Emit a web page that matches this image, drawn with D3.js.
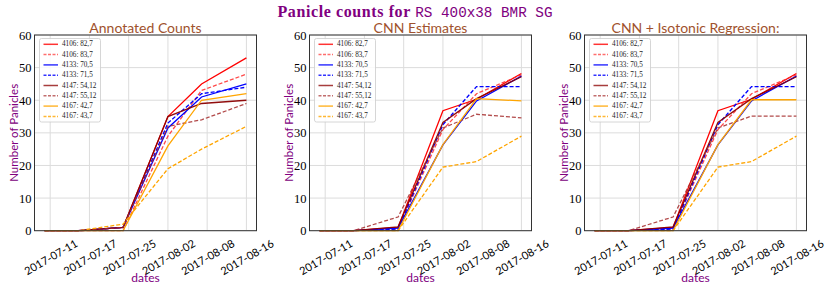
<!DOCTYPE html>
<html><head><meta charset="utf-8">
<script src="https://cdn.jsdelivr.net/npm/d3@7"></script>
<style>body{margin:0;background:#fff}svg{display:block}</style>
</head><body>
<svg id="c" width="830" height="302"></svg>
<script>
// ---- data ----
const dates = ["2017-07-11","2017-07-17","2017-07-25","2017-08-02","2017-08-08","2017-08-16"];
const tickDates = ["2017-07-12","2017-07-19","2017-07-26","2017-08-02","2017-08-09","2017-08-16"];
const tickLabels = ["2017-07-11","2017-07-17","2017-07-25","2017-08-02","2017-08-08","2017-08-16"];
const yTicks = [0,10,20,30,40,50,60];
const seriesNames = ["4106: 82,7","4106: 83,7","4133: 70,5","4133: 71,5","4147: 54,12","4147: 55,12","4167: 42,7","4167: 43,7"];
const panelTitles = ["Annotated Counts","CNN Estimates","CNN + Isotonic Regression:"];
const annotated = [
  [0,0,1,35,45,53],
  [0,0,0,29,43,48],
  [0,0,1,31.5,41,45],
  [0,0,1,33,42,44],
  [0,0,1,35,39,40],
  [0,0,1,32,34,39],
  [0,0,0,26,40,42],
  [0,0,2,19,25,32]
];
const cnn = [
  [0,0,1,36.8,40.3,48.2],
  [0,0,0.5,31,42,47.8],
  [0,0,0.8,26.3,39.8,47.4],
  [0,0,0.5,32.5,44.2,44.2],
  [0,0,1.2,33.2,40.5,47.2],
  [0,0,4.2,31.5,35.7,34.6],
  [0,0,0,26.4,40.5,39.8],
  [0,0,0,19.5,21.2,29]
];
const isotonic = [
  [0,0,1,36.8,40.3,48.2],
  [0,0,0.5,31,42,47.8],
  [0,0,0.8,26.3,39.8,47.4],
  [0,0,0.5,32.5,44.2,44.2],
  [0,0,1.2,33.2,40.5,47.2],
  [0,0,4.2,31.5,35.15,35.15],
  [0,0,0,26.4,40.15,40.15],
  [0,0,0,19.5,21.2,29]
];
const panels = [annotated, cnn, isotonic];
// ---- styles ----
const colors = ["#ff0000","#ff2a2a","#0000ff","#0000ff","#8b0000","#a52a2a","#ffa500","#ffa500"];
const dashed = [false,true,false,true,false,true,false,true];
const opac = [1,0.85,1,1,0.95,0.85,1,1];

const svg = d3.select("#c");
const parse = d3.timeParse("%Y-%m-%d");
const dd = dates.map(parse);
const span = dd[dd.length-1] - dd[0];
const xDomain = [new Date(+dd[0] - span*0.05), new Date(+dd[dd.length-1] + span*0.05)];
const lefts = [34.5, 309.5, 584.5];
const W = 222, pTop = 35, pBottom = 230.7;
const purple = "#800080", sienna = "#a0522d";
const sans = "Lato, 'Open Sans', sans-serif";
const serif = "'Liberation Serif', 'DejaVu Serif', serif";

// main title
const tt = svg.append("text").attr("x", 415).attr("y", 17).attr("text-anchor","middle").attr("fill", purple);
tt.append("tspan").attr("font-family", serif).attr("font-weight","bold").attr("font-size", 16)
  .attr("letter-spacing", 0.6).text("Panicle counts for ");
tt.append("tspan").attr("font-family", "'Liberation Mono','DejaVu Sans Mono',monospace").attr("font-size", 14.3).text("RS 400x38 BMR SG");

panels.forEach((data, p) => {
  const L = lefts[p];
  const x = d3.scaleTime().domain(xDomain).range([L, L+W]);
  const y = d3.scaleLinear().domain([0,60]).range([pBottom, pTop]);
  const g = svg.append("g");
  // grid
  g.append("g").selectAll("line").data(yTicks).join("line")
    .attr("x1", L).attr("x2", L+W).attr("y1", d=>y(d)).attr("y2", d=>y(d))
    .attr("stroke", "#dcdcdc").attr("stroke-width", 1);
  g.append("g").selectAll("line").data(tickDates.map(parse)).join("line")
    .attr("x1", d=>x(d)).attr("x2", d=>x(d)).attr("y1", pTop).attr("y2", pBottom)
    .attr("stroke", "#dcdcdc").attr("stroke-width", 1);
  // lines
  const line = d3.line().x((d,i)=>x(dd[i])).y(d=>y(d));
  g.append("g").selectAll("path").data(data).join("path")
    .attr("d", d=>line(d)).attr("fill","none")
    .attr("stroke", (d,i)=>colors[i]).attr("stroke-opacity",(d,i)=>opac[i])
    .attr("stroke-width", 1.3)
    .attr("stroke-dasharray", (d,i)=>dashed[i] ? "4,2" : null);
  // spines
  g.append("rect").attr("x", L).attr("y", pTop).attr("width", W).attr("height", pBottom-pTop)
    .attr("fill","none").attr("stroke","#333").attr("stroke-width",1);
  // y axis
  const ya = g.append("g").attr("transform", `translate(${L},0)`)
    .call(d3.axisLeft(y).tickValues(yTicks).tickSize(0).tickPadding(3));
  ya.select(".domain").remove();
  ya.selectAll("text").attr("font-family", serif).attr("font-size", 12.5).attr("fill","#000");
  // x axis
  const xa = g.append("g").attr("transform", `translate(0,${pBottom})`)
    .call(d3.axisBottom(x).tickValues(tickDates.map(parse)).tickSize(0).tickFormat((d,i)=>tickLabels[i]));
  xa.select(".domain").remove();
  xa.selectAll("text").attr("font-family", sans).attr("font-size", 11).attr("fill","#000")
    .attr("dy", null).attr("y", 0)
    .attr("text-anchor","middle").attr("dominant-baseline","central")
    .attr("transform", "translate(0,26) rotate(-30)");
  // labels
  g.append("text").attr("x", L+W/2).attr("y", 282).attr("text-anchor","middle")
    .attr("font-family", sans).attr("font-size", 12).attr("fill", purple).text("dates");
  g.append("text").attr("transform", `translate(${L-17},${(pTop+pBottom)/2}) rotate(-90)`)
    .attr("text-anchor","middle").attr("font-family", sans).attr("font-size", 11.5).attr("fill", purple)
    .text("Number of Panicles");
  g.append("text").attr("x", L+W/2).attr("y", 33).attr("text-anchor","middle")
    .attr("font-family", sans).attr("font-size", 14).attr("fill", sienna).text(panelTitles[p]);
  // legend
  const lg = g.append("g").attr("transform", `translate(${L+5},38.5)`);
  lg.append("rect").attr("width", 61).attr("height", 83.5).attr("rx", 2)
    .attr("fill","#fff").attr("fill-opacity",0.85).attr("stroke","#ccc").attr("stroke-width",0.8);
  const items = lg.selectAll("g.it").data(seriesNames).join("g").attr("class","it")
    .attr("transform", (d,i)=>`translate(0,${5.8 + i*10.3})`);
  items.append("line").attr("x1",4).attr("x2",18.5).attr("y1",0).attr("y2",0)
    .attr("stroke",(d,i)=>colors[i]).attr("stroke-opacity",(d,i)=>opac[i]*0.8).attr("stroke-width",1.5)
    .attr("stroke-dasharray",(d,i)=>dashed[i] ? "3,1.5" : null);
  items.append("text").attr("x",22.5).attr("y",0).attr("dominant-baseline","central")
    .attr("font-family", serif).attr("font-size", 7.2).attr("fill","#222").text(d=>d);
});
</script>
</body></html>
